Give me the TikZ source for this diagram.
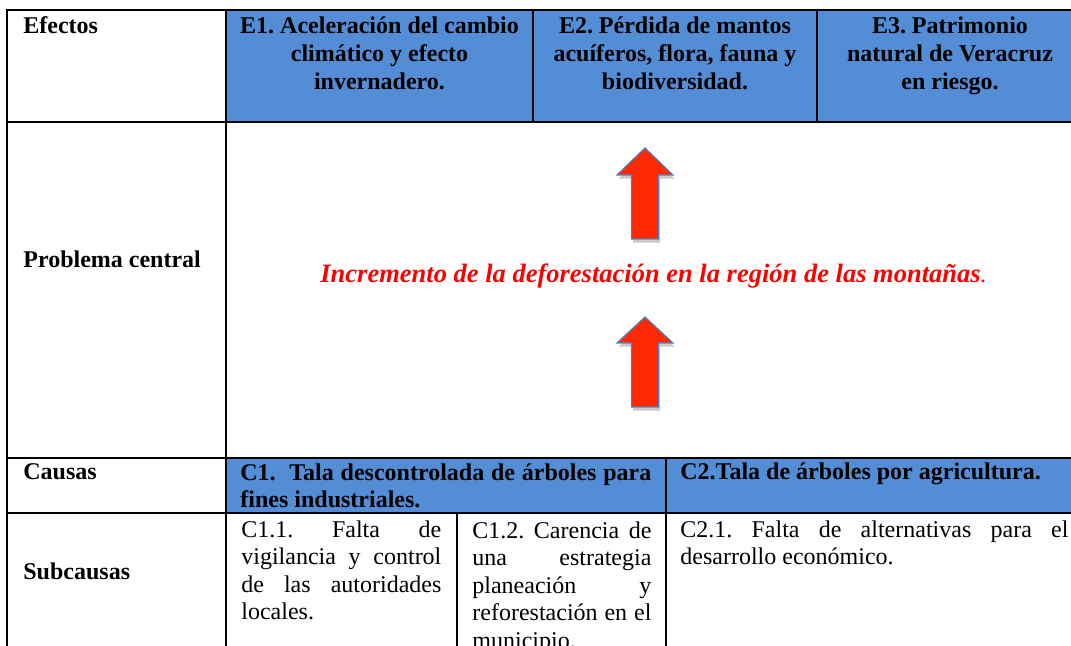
\documentclass[tikz,border=0pt]{standalone}
\usepackage{fontspec}
\setmainfont{Liberation Serif}
\usetikzlibrary{shadows}
\definecolor{cellblue}{RGB}{83,141,213}
\definecolor{arrowred}{RGB}{255,40,0}
\definecolor{arrowedge}{RGB}{79,129,189}
\frenchspacing

\begin{document}
\begin{tikzpicture}[
    x=0.5pt, y=-0.5pt,
    font=\fontsize{12}{13.8}\selectfont,
    grid/.style={draw=black, line width=1pt},
    bluecell/.style={fill=cellblue},
    rowlabel/.style={anchor=base west, inner sep=0pt, font=\fontsize{12}{13.8}\selectfont\bfseries},
    effect/.style={anchor=base, inner sep=0pt, align=center, font=\fontsize{12}{13.8}\selectfont\bfseries},
    cause/.style={anchor=base west, inner sep=0pt, align=left, font=\fontsize{12}{13.8}\selectfont\bfseries},
    subcause/.style={anchor=base west, inner sep=0pt, align=left},
    blockarrow/.style={fill=arrowred, draw=arrowedge, line width=0.6pt,
        drop shadow={shadow xshift=0.8pt, shadow yshift=-1.8pt, opacity=0.35, fill=black!60}}
]
\useasboundingbox (0,0) rectangle (1071,646);
\clip (0,0) rectangle (1071,646);

% filled cells
\fill[bluecell] (226,10) rectangle (1083,122);
\fill[bluecell] (226,458) rectangle (1083,513);

% table rules
\draw[grid] (7,10) rectangle (1083,700);
\draw[grid] (7,122) -- (1083,122);
\draw[grid] (7,458) -- (1083,458);
\draw[grid] (7,513) -- (1083,513);
\draw[grid] (226,10) -- (226,700);
\draw[grid] (533,10) -- (533,122);
\draw[grid] (817,10) -- (817,122);
\draw[grid] (666,458) -- (666,700);
\draw[grid] (457,513) -- (457,700);

% row labels
\node[rowlabel] (efectos) at (23,34) {Efectos};
\node[rowlabel] (problema) at (23,268) {Problema central};
\node[rowlabel] (causas) at (23,480) {Causas};
\node[rowlabel] (subcausas) at (23,579) {Subcausas};

% effects (base = last line)
\node[effect] (e1) at (379.5,89.2) {E1. Aceleración del cambio\\climático y efecto\\invernadero.};
\node[effect] (e2) at (675,89.2) {E2. Pérdida de mantos\\acuíferos, flora, fauna y\\biodiversidad.};
\node[effect] (e3) at (950,89.2) {E3. Patrimonio\\natural de Veracruz\\en riesgo.};

% central problem
\node[anchor=base west, inner sep=0pt, text=red] (central) at (320,283)
    {{\fontsize{13.25}{15}\selectfont\bfseries\itshape Incremento de la deforestación en la región de las montañas}{\itshape .}};

\coordinate (tipa) at (645,148);
\coordinate (tipb) at (645,317);
\draw[blockarrow] (tipa) -- ++(28,27) -- ++(-14.5,0) -- ++(0,64) -- ++(-27,0) -- ++(0,-64) -- ++(-14.5,0) -- cycle;
\draw[blockarrow] (tipb) -- ++(28,26) -- ++(-14.5,0) -- ++(0,64) -- ++(-27,0) -- ++(0,-64) -- ++(-14.5,0) -- cycle;

% causes
\node[cause] (c1) at (240,507.6) {\makebox[205.5pt][s]{C1.\ \ Tala descontrolada de árboles para}\\fines industriales.};
\node[cause] (c2) at (680,480) {C2.Tala de árboles por agricultura.};

% subcauses
\node[subcause] (c11) at (241,619.8) {\makebox[100pt][s]{C1.1. Falta de}\\\makebox[100pt][s]{vigilancia y control}\\\makebox[100pt][s]{de las autoridades}\\locales.};
\node[subcause] (c12) at (472,648.4) {\makebox[89.5pt][s]{C1.2. Carencia de}\\\makebox[89.5pt][s]{una estrategia}\\\makebox[89.5pt][s]{planeación y}\\\makebox[89.5pt][s]{reforestación en el}\\municipio.};
\node[subcause] (c21) at (680,564.6) {\makebox[194pt][s]{C2.1. Falta de alternativas para el}\\desarrollo económico.};
\end{tikzpicture}
\end{document}
